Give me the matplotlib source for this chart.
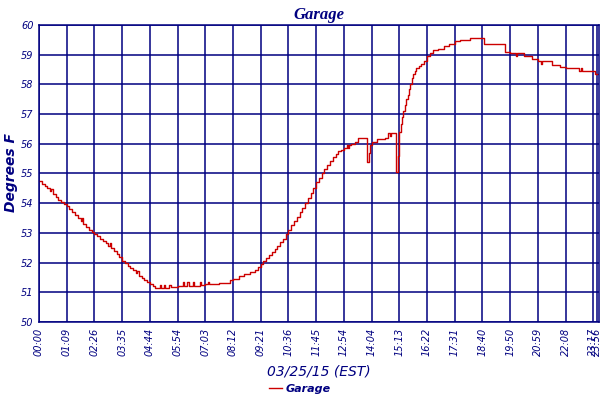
import matplotlib.pyplot as plt

# sample position (one unit = one grid column) and temperature
sample_pos = [0.00, 0.10, 0.20, 0.30, 0.40, 0.45, 0.50, 0.60, 0.70, 0.80,
              0.90, 1.00, 1.10, 1.20, 1.30, 1.40, 1.50, 1.55, 1.60, 1.70,
              1.80, 1.90, 2.00, 2.10, 2.20, 2.30, 2.40, 2.50, 2.55, 2.60,
              2.70, 2.80, 2.90, 3.00, 3.10, 3.20, 3.30, 3.40, 3.50, 3.55,
              3.60, 3.70, 3.80, 3.90, 4.00, 4.10, 4.20, 4.35, 4.40, 4.50,
              4.55, 4.70, 4.75, 5.00, 5.20, 5.25, 5.35, 5.40, 5.55, 5.60,
              5.80, 5.85, 6.00, 6.10, 6.15, 6.50, 6.90, 7.00, 7.20, 7.40,
              7.60, 7.80, 7.90, 8.00, 8.10, 8.20, 8.30, 8.40, 8.50, 8.60,
              8.70, 8.80, 8.90, 9.00, 9.10, 9.20, 9.30, 9.40, 9.50, 9.60,
              9.70, 9.80, 9.90, 10.00, 10.10, 10.20, 10.30, 10.40, 10.50, 10.60,
              10.70, 10.80, 10.90, 11.00, 11.10, 11.15, 11.20, 11.25, 11.40, 11.50,
              11.85, 11.90, 11.95, 12.00, 12.20, 12.50, 12.60, 12.65, 12.70, 12.90,
              12.95, 13.00, 13.05, 13.10, 13.15, 13.20, 13.25, 13.30, 13.35, 13.40,
              13.45, 13.50, 13.55, 13.60, 13.70, 13.80, 13.90, 14.00, 14.10, 14.20,
              14.40, 14.60, 14.80, 15.00, 15.20, 15.50, 15.55, 16.07, 16.80, 17.00,
              17.20, 17.25, 17.50, 17.80, 18.00, 18.10, 18.15, 18.50, 18.80, 19.00,
              19.50, 19.55, 19.60, 20.00, 20.05, 20.20]
temp_f = [54.75, 54.65, 54.58, 54.50, 54.40, 54.48, 54.30, 54.20, 54.12, 54.05,
          53.97, 53.90, 53.80, 53.70, 53.60, 53.50, 53.40, 53.50, 53.30, 53.20,
          53.10, 53.02, 52.95, 52.88, 52.80, 52.72, 52.65, 52.57, 52.65, 52.50,
          52.40, 52.30, 52.18, 52.05, 51.98, 51.90, 51.82, 51.75, 51.65, 51.72,
          51.55, 51.48, 51.40, 51.33, 51.28, 51.20, 51.15, 51.25, 51.15, 51.25,
          51.15, 51.25, 51.18, 51.22, 51.35, 51.22, 51.35, 51.22, 51.35, 51.22,
          51.35, 51.25, 51.28, 51.35, 51.28, 51.30, 51.40, 51.45, 51.55, 51.60,
          51.68, 51.75, 51.85, 51.95, 52.05, 52.15, 52.25, 52.35, 52.45, 52.55,
          52.68, 52.80, 52.95, 53.10, 53.25, 53.40, 53.55, 53.70, 53.85, 54.00,
          54.18, 54.35, 54.52, 54.70, 54.85, 55.00, 55.15, 55.30, 55.43, 55.55,
          55.65, 55.75, 55.80, 55.85, 55.95, 55.85, 55.95, 56.00, 56.05, 56.20,
          55.40, 55.70, 55.95, 56.05, 56.15, 56.20, 56.35, 56.25, 56.35, 55.05,
          55.60, 56.40, 56.65, 56.90, 57.10, 57.30, 57.50, 57.65, 57.85, 58.00,
          58.20, 58.35, 58.45, 58.55, 58.62, 58.70, 58.80, 58.95, 59.05, 59.15,
          59.20, 59.30, 59.35, 59.45, 59.48, 59.48, 59.55, 59.35, 59.10, 59.05,
          58.95, 59.05, 58.95, 58.85, 58.80, 58.70, 58.80, 58.65, 58.58, 58.55,
          58.45, 58.55, 58.45, 58.45, 58.35, 58.45]

tick_pos = list(range(21)) + [20.15]
tick_labels = ["00:00", "01:09", "02:26", "03:35", "04:44", "05:54", "07:03",
               "08:12", "09:21", "10:36", "11:45", "12:54", "14:04", "15:13",
               "16:22", "17:31", "18:40", "19:50", "20:59", "22:08", "23:17",
               "23:56"]

navy = "#000080"

fig = plt.figure(figsize=(6, 4), dpi=100)
ax = fig.add_axes([0.065, 0.195, 0.933, 0.7425])

ax.plot(sample_pos, temp_f, drawstyle="steps-post", color="#cc0000",
        linewidth=1.0, label="Garage")

ax.set_xlim(0, 20.2)
ax.set_ylim(50, 60)
ax.set_yticks(range(50, 61))
ax.set_xticks(tick_pos)
ax.set_xticklabels(tick_labels, rotation=90, fontsize=7, style="italic", color=navy)
for lab in ax.get_yticklabels():
    lab.set_fontsize(7)
    lab.set_style("italic")
    lab.set_color(navy)
ax.tick_params(length=0, pad=4)

ax.grid(True, color=navy, linewidth=1.1)
for s in ax.spines.values():
    s.set_color(navy)
    s.set_linewidth(1.1)

ax.set_title("Garage", fontsize=12, fontweight="bold", style="italic",
             family="Liberation Serif", color=navy, pad=4)
fig.text(0.018, 0.57, "Degrees F", rotation=90, ha="center", va="center",
         fontsize=10, fontweight="bold", style="italic", color=navy)
ax.set_xlabel("03/25/15 (EST)", fontsize=10, style="italic", color=navy, labelpad=6)

leg = fig.legend(loc="lower center", bbox_to_anchor=(0.5, -0.01), frameon=False,
                 handlelength=1.2, handletextpad=0.3, fontsize=8)
for t in leg.get_texts():
    t.set_color(navy)
    t.set_style("italic")
    t.set_fontweight("bold")

fig.savefig("out.png", dpi=100)
